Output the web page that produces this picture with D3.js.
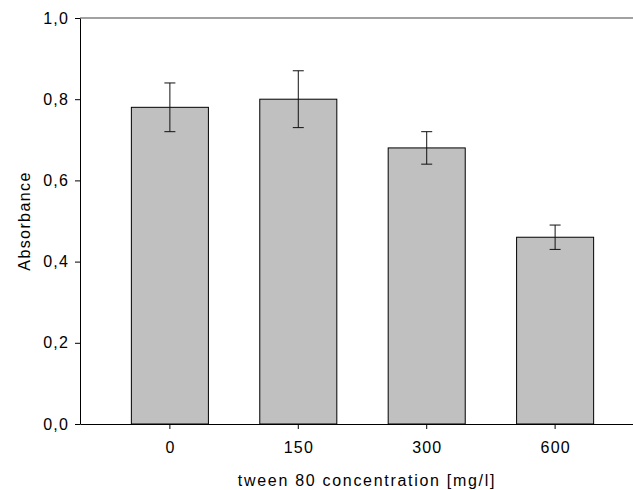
<!DOCTYPE html>
<html>
<head>
<meta charset="utf-8">
<script src="https://cdn.jsdelivr.net/npm/d3@7"></script>
<style>
  body { margin: 0; background: #fff; }
  svg { display: block; font-family: "Liberation Sans", Arial, sans-serif; }
</style>
</head>
<body>
<div id="chart"></div>
<script>
// data
var categories = ["0", "150", "300", "600"];
var absorbance = [0.78, 0.80, 0.68, 0.46];
var errLow = [0.72, 0.73, 0.64, 0.43];
var errHigh = [0.84, 0.87, 0.72, 0.49];
var yTicks = [0, 0.2, 0.4, 0.6, 0.8, 1.0];

var width = 633, height = 490;
var plotLeft = 80, plotTop = 18, plotBottom = 424, plotRight = 645;

var svg = d3.select("#chart")
    .append("svg")
    .attr("width", width)
    .attr("height", height);

var x = d3.scaleBand()
    .domain(categories)
    .range([plotLeft, plotRight])
    .paddingInner(0.4)
    .paddingOuter(0.4);

var y = d3.scaleLinear()
    .domain([0, 1])
    .range([plotBottom, plotTop]);

var fmt = function (d) { return d3.format(".1f")(d).replace(".", ","); };

// bars
svg.selectAll("rect.bar")
    .data(absorbance)
    .enter()
    .append("rect")
    .attr("class", "bar")
    .attr("x", function (d, i) { return x(categories[i]); })
    .attr("y", function (d) { return y(d); })
    .attr("width", x.bandwidth())
    .attr("height", function (d) { return y(0) - y(d); })
    .attr("fill", "#c0c0c0")
    .attr("stroke", "#000")
    .attr("stroke-width", 1);

// error bars
var cap = 5.5;
var eb = svg.selectAll("g.err")
    .data(absorbance)
    .enter()
    .append("g")
    .attr("class", "err")
    .attr("stroke", "#111")
    .attr("stroke-width", 1);
eb.append("line")
    .attr("x1", function (d, i) { return x(categories[i]) + x.bandwidth() / 2; })
    .attr("x2", function (d, i) { return x(categories[i]) + x.bandwidth() / 2; })
    .attr("y1", function (d, i) { return y(errLow[i]); })
    .attr("y2", function (d, i) { return y(errHigh[i]); });
eb.append("line")
    .attr("x1", function (d, i) { return x(categories[i]) + x.bandwidth() / 2 - cap; })
    .attr("x2", function (d, i) { return x(categories[i]) + x.bandwidth() / 2 + cap; })
    .attr("y1", function (d, i) { return y(errHigh[i]); })
    .attr("y2", function (d, i) { return y(errHigh[i]); });
eb.append("line")
    .attr("x1", function (d, i) { return x(categories[i]) + x.bandwidth() / 2 - cap; })
    .attr("x2", function (d, i) { return x(categories[i]) + x.bandwidth() / 2 + cap; })
    .attr("y1", function (d, i) { return y(errLow[i]); })
    .attr("y2", function (d, i) { return y(errLow[i]); });

// top frame line
svg.append("line")
    .attr("x1", plotLeft).attr("x2", plotRight)
    .attr("y1", y(1)).attr("y2", y(1))
    .attr("stroke", "#444");

// y axis
var yAxis = svg.append("g")
    .attr("transform", "translate(" + plotLeft + ",0)")
    .call(d3.axisLeft(y).tickValues(yTicks).tickFormat(fmt).tickSizeInner(5).tickSizeOuter(0).tickPadding(6));

// x axis
var xAxis = svg.append("g")
    .attr("transform", "translate(0," + plotBottom + ")")
    .call(d3.axisBottom(x).tickSizeInner(5).tickSizeOuter(0).tickPadding(13));

[yAxis, xAxis].forEach(function (a) {
    a.selectAll("path, line").attr("stroke", "#000");
    a.selectAll("text")
        .attr("fill", "#000")
        .style("font-size", "16px")
        .style("letter-spacing", "1.2px");
});
// letter-spacing leaves a trailing gap, nudge centred labels back
xAxis.selectAll("text").attr("dx", "0.6px");

// axis titles
svg.append("text")
    .attr("transform", "translate(30,221) rotate(-90)")
    .attr("text-anchor", "middle")
    .style("font-size", "16px")
    .style("letter-spacing", "1.4px")
    .text("Absorbance");

svg.append("text")
    .attr("x", 367)
    .attr("y", 486)
    .attr("text-anchor", "middle")
    .style("font-size", "16px")
    .style("letter-spacing", "1.7px")
    .text("tween 80 concentration [mg/l]");
</script>
</body>
</html>
